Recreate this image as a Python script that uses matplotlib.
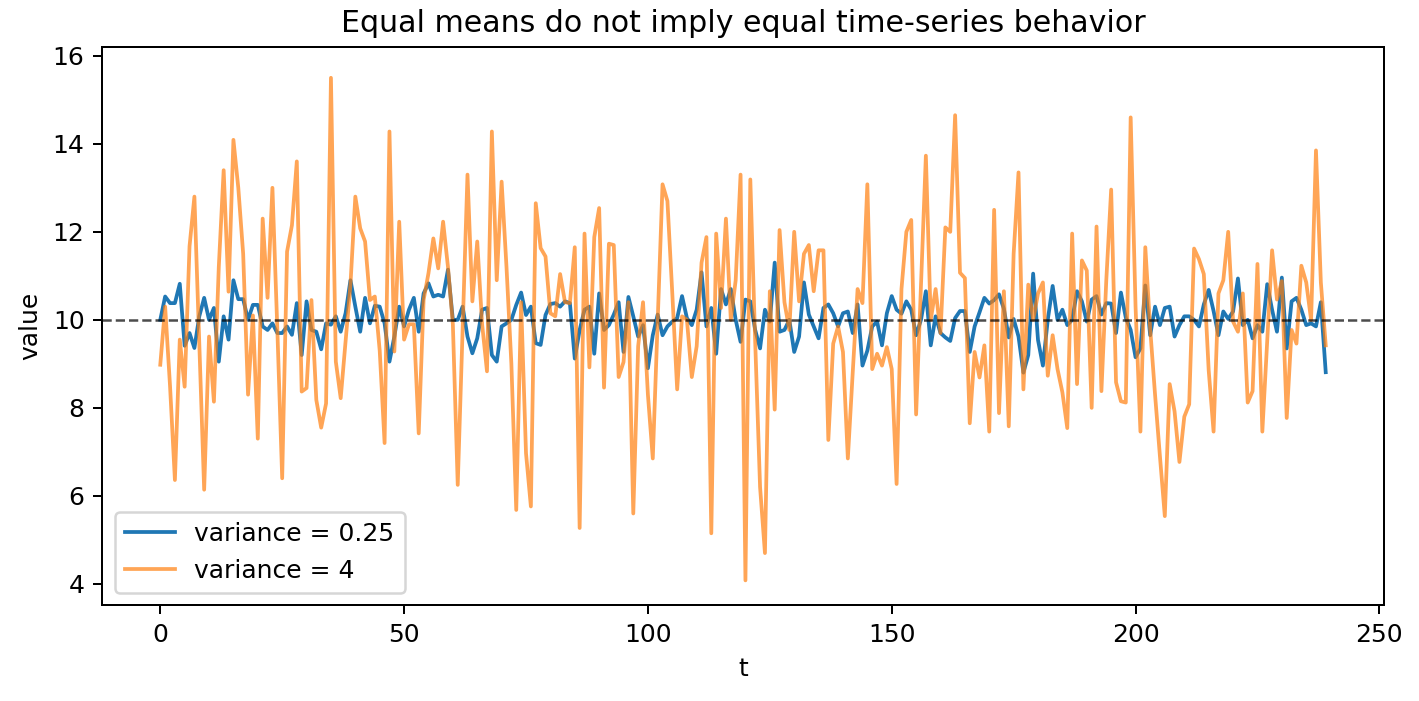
import matplotlib
matplotlib.use("Agg")
import matplotlib.pyplot as plt
import numpy as np

t = np.arange(240)

low_var = [
    10.0, 10.53, 10.38, 10.38, 10.82, 9.41, 9.7, 9.36, 10.08, 10.5,
    10.0, 10.27, 9.05, 10.08, 9.55, 10.9, 10.47, 10.47, 10.0, 10.34,
    10.34, 9.85, 9.77, 9.92, 9.7, 9.7, 9.85, 9.66, 10.38, 9.2,
    10.42, 9.77, 9.73, 9.33, 9.92, 9.89, 10.08, 9.73, 10.15, 10.9,
    10.3, 9.73, 10.5, 9.92, 10.32, 10.3, 9.92, 9.05, 9.62, 10.3,
    9.85, 10.23, 10.5, 9.73, 10.6, 10.83, 10.53, 10.57, 10.53, 11.14,
    10.0, 10.0, 10.3, 9.62, 9.24, 9.58, 10.23, 10.27, 9.2, 9.05,
    9.85, 9.92, 10.0, 10.34, 10.62, 10.11, 10.3, 9.47, 9.43, 10.11,
    10.36, 10.38, 10.3, 10.42, 10.38, 9.12, 9.77, 10.23, 10.3, 9.23,
    10.6, 9.77, 9.88, 10.12, 10.4, 9.27, 10.52, 10.08, 9.62, 9.88,
    8.9, 9.65, 10.12, 9.65, 9.85, 9.96, 10.04, 10.54, 10.04, 9.88,
    10.23, 11.08, 9.85, 10.27, 9.23, 10.7, 10.35, 10.7, 10.0, 9.5,
    10.46, 10.42, 9.77, 9.35, 10.23, 9.96, 11.3, 9.73, 9.77, 10.0,
    9.27, 9.62, 10.85, 10.12, 9.85, 9.58, 10.27, 10.35, 10.15, 9.85,
    10.15, 10.19, 9.7, 10.35, 8.96, 9.3, 9.85, 9.96, 9.42, 10.15,
    10.54, 10.23, 10.14, 10.42, 10.23, 9.65, 10.0, 10.65, 9.42, 10.08,
    9.7, 9.6, 9.52, 10.04, 10.2, 10.2, 9.27, 9.85, 10.17, 10.5,
    10.37, 10.45, 10.58, 10.25, 9.6, 10.02, 9.62, 8.8, 9.2, 11.05,
    9.54, 8.96, 10.0, 10.77, 10.0, 10.23, 9.88, 10.0, 10.65, 10.42,
    9.96, 10.46, 10.54, 10.12, 10.38, 10.37, 9.7, 10.62, 10.05, 9.77,
    9.15, 9.35, 10.78, 9.65, 10.3, 9.88, 10.27, 10.3, 9.62, 9.88,
    10.08, 10.08, 10.0, 9.85, 10.35, 10.68, 10.2, 9.65, 10.19, 10.02,
    10.19, 10.94, 9.88, 10.0, 9.58, 9.88, 9.73, 10.81, 10.23, 9.73,
    10.96, 9.35, 10.42, 10.5, 10.23, 9.88, 9.92, 9.85, 10.4, 8.81,
]

high_var = [
    8.98, 10.3, 8.5, 6.36, 9.55, 8.48, 11.67, 12.8, 9.5, 6.14,
    9.62, 8.14, 11.2, 13.4, 10.64, 14.09, 13.0, 11.5, 8.3, 10.1,
    7.3, 12.3, 10.5, 13.0, 9.8, 6.4, 11.55, 12.15, 13.6, 8.37,
    8.45, 10.45, 8.18, 7.55, 8.1, 15.5, 9.05, 8.22, 9.5, 10.8,
    12.8, 12.08, 11.78, 10.45, 10.53, 9.3, 7.2, 14.28, 9.28, 12.23,
    9.55, 9.9, 9.9, 7.42, 10.45, 11.06, 11.85, 11.17, 12.23, 11.2,
    9.9, 6.25, 9.8, 13.3, 10.42, 11.78, 9.9, 8.83, 14.28, 10.9,
    13.14, 11.2, 9.0, 5.68, 10.4, 6.97, 5.76, 12.65, 11.63, 11.44,
    10.15, 10.08, 11.04, 10.4, 10.38, 11.65, 5.27, 11.96, 8.92, 11.88,
    12.54, 8.46, 11.73, 11.7, 8.7, 9.04, 10.4, 5.6, 9.4, 10.4,
    8.3, 6.85, 10.0, 13.08, 12.7, 10.6, 8.42, 10.08, 10.0, 8.7,
    9.4, 11.3, 11.88, 5.15, 11.96, 10.27, 12.3, 10.0, 10.9, 13.3,
    4.08, 13.19, 9.5, 6.2, 4.7, 10.65, 7.96, 12.04, 10.4, 9.77,
    12.0, 10.42, 11.5, 11.7, 10.65, 11.58, 11.58, 7.27, 9.46, 9.85,
    9.27, 6.85, 8.8, 10.7, 10.38, 13.08, 8.88, 9.23, 8.96, 9.38,
    8.88, 6.27, 10.7, 12.0, 12.27, 7.85, 10.8, 13.73, 10.0, 10.7,
    9.7, 12.1, 12.0, 14.65, 11.07, 10.95, 7.65, 9.27, 8.69, 9.42,
    7.46, 12.5, 7.88, 10.65, 7.58, 11.5, 13.35, 8.42, 10.8, 10.0,
    10.6, 10.85, 8.73, 9.65, 8.88, 8.35, 7.54, 11.96, 8.54, 11.35,
    11.12, 8.0, 12.12, 8.38, 10.9, 12.96, 8.58, 8.15, 8.12, 14.6,
    10.3, 7.46, 11.65, 9.8, 8.3, 6.9, 5.54, 8.54, 7.92, 6.77,
    7.8, 8.08, 11.62, 11.38, 11.04, 8.85, 7.46, 10.6, 10.9, 12.0,
    9.96, 9.73, 10.6, 8.12, 8.38, 11.27, 7.46, 9.5, 11.58, 10.46,
    10.88, 7.77, 9.77, 9.46, 11.23, 10.85, 10.0, 13.85, 10.85, 9.42,
]

mean_value = 10

DPI = 180
fig = plt.figure(figsize=(1419 / DPI, 701 / DPI), dpi=DPI)
ax = fig.add_axes([102 / 1419, 1 - 605 / 701, (1384 - 102) / 1419, (605 - 47) / 701])

ax.plot(t, low_var, color="C0", linewidth=1.5, label="variance = 0.25")
ax.plot(t, high_var, color="C1", linewidth=1.5, alpha=0.7, label="variance = 4")
ax.axhline(mean_value, color="black", linestyle="--", linewidth=1.0, alpha=0.7)

ax.set_xlim(-11.95, 250.95)
ax.set_ylim(3.52, 16.2)
ax.set_xticks([0, 50, 100, 150, 200, 250])
ax.set_yticks([4, 6, 8, 10, 12, 14, 16])
ax.set_title("Equal means do not imply equal time-series behavior")
ax.set_xlabel("t")
ax.set_ylabel("value")
ax.legend(loc="lower left")

fig.savefig("out.png", dpi=DPI)
